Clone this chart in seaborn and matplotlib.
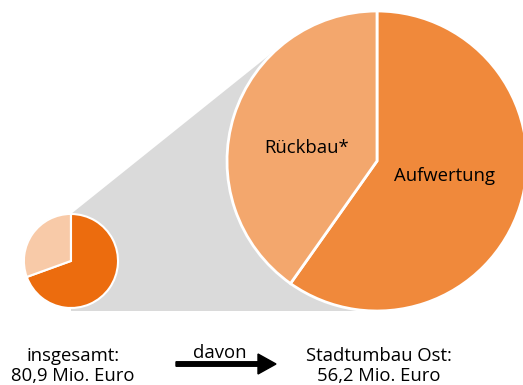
import numpy as np
import matplotlib
matplotlib.use("Agg")
import matplotlib.pyplot as plt
import seaborn as sns
from matplotlib.patches import Polygon

# Fördermittel in Mio. Euro
total_labels = ["Stadtumbau Ost", "übrige Programme"]
total_values = [56.2, 24.7]
detail_labels = ["Aufwertung", "Rückbau*"]
detail_values = [33.6, 22.6]

total_colors = ["#EC6C0E", "#F8CAA8"]
detail_colors = ["#F0893B", "#F3A76D"]
funnel_color = "#DADADA"

sns.set_theme(style="white")
plt.rcParams["font.family"] = ["Open Sans", "DejaVu Sans"]
plt.rcParams["text.color"] = "black"

W, H = 523, 385
fig = plt.figure(figsize=(W / 100, H / 100), dpi=100)
ax = fig.add_axes([0, 0, 1, 1])


def fmt(v):
    return f"{v:.1f}".replace(".", ",") + " Mio. Euro"


# layout (canvas units = pixels, y up)
small_c, small_r = (71, 124), 47
big_c, big_r = (377, 224), 150

# small pie: total, with the remainder pulled out
ax.pie(total_values, colors=total_colors, startangle=90, counterclock=False,
       center=small_c, radius=small_r, explode=[0, 0.12],
       wedgeprops=dict(edgecolor="white", linewidth=1.5))

# large pie: breakdown of Stadtumbau Ost
ax.pie(detail_values, colors=detail_colors, startangle=90, counterclock=False,
       center=big_c, radius=big_r,
       wedgeprops=dict(edgecolor="white", linewidth=2))

# grey funnel from the small slice to the large pie (upper tangent, then
# around the left side of the large pie down to its bottom)
P = np.array([small_c[0], small_c[1] + small_r], dtype=float)
C = np.array(big_c, dtype=float)
v = P - C
d = np.hypot(*v)
phi_t = np.mod(np.arctan2(v[1], v[0]) - np.arccos(big_r / d), 2 * np.pi)
arc = np.linspace(phi_t, 1.5 * np.pi, 80)
arc_pts = np.column_stack([C[0] + big_r * np.cos(arc), C[1] + big_r * np.sin(arc)])
bottom_y = C[1] - big_r
poly = np.vstack([P, arc_pts, [small_c[0], bottom_y]])
ax.add_patch(Polygon(poly, closed=True, facecolor=funnel_color,
                     edgecolor="none", zorder=0))

# slice labels
ax.text(306.5, 232, detail_labels[1], ha="center", va="baseline", fontsize=13.3)
ax.text(445, 204, detail_labels[0], ha="center", va="baseline", fontsize=13.3)

# captions
ax.text(73, 24, "insgesamt:", ha="center", va="baseline", fontsize=13.3)
ax.text(73, 4, fmt(sum(total_values)), ha="center", va="baseline", fontsize=13.3)
ax.text(220, 27, "davon", ha="center", va="baseline", fontsize=13.3)
ax.text(379, 24, total_labels[0] + ":", ha="center", va="baseline", fontsize=13.3)
ax.text(379, 4, fmt(total_values[0]), ha="center", va="baseline", fontsize=13.3)

ax.arrow(176, 21, 100, 0, width=4.5, head_width=20, head_length=18,
         length_includes_head=True, color="black", zorder=3)

ax.set_xlim(0, W)
ax.set_ylim(0, H)
ax.set_aspect("equal")
ax.axis("off")

fig.savefig("out.png", dpi=100)
